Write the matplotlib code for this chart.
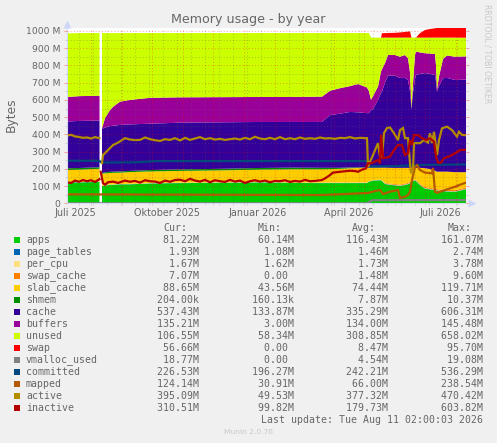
import numpy as np
import pandas as pd
import matplotlib
matplotlib.use("Agg")
import matplotlib.pyplot as plt
from matplotlib.transforms import blended_transform_factory

n = np.nan
START = pd.Timestamp("2025-07-08")
END_DAY = 399

stack_days = [0, 13, 32.5, 34, 35, 38, 41, 43, 46, 53, 63, 83, 113, 153, 193, 226, 255, 263, 273, 283, 291, 300, 302, 304,
              306, 311, 314, 315, 318, 321, 328, 333, 338, 341, 343, 344.5, 346, 348, 349, 353, 358, 363, 368, 369, 370,
              372, 376, 380, 388, 399]
apps = [122, 121, 124, n, 100, 103, 105, 106, 107, 110, 110, 115, 117, 119, 121, 118, 117, 117, 117, 117, 117, 117, 125, 128,
        131, 133, 133, 128, 112, 108, 104, 100, 106, 110, 116, 125, 130, 131, 129, 105, 85, 80, 76, 74, 73,
        70, 70, 68, 66, 81]
page_tables = [1.4, 1.4, 1.4, n, 1.2, 1.2, 1.2, 1.2, 1.2, 1.2, 1.3, 1.3, 1.3, 1.3, 1.4, 1.4, 1.4, 1.4, 1.4, 1.4, 1.4, 1.4, 1.5, 1.5,
               1.5, 1.5, 1.6, 1.6, 1.7, 1.7, 1.7, 1.8, 1.8, 1.8, 1.8, 1.8, 1.8, 1.8, 1.8, 1.8, 1.9, 1.9, 1.9, 1.9, 1.9,
               1.9, 1.9, 1.9, 1.9, 1.9]
per_cpu = [1.7] * 3 + [n] + [1.7] * 46
swap_cache = [0, 0, 0, n, 0, 0, 0, 0, 0, 0, 0, 0, 0, 0, 0, 0, 0, 0, 0, 0, 0, 0, 0, 0,
              0, 0, 0, 1, 3, 4, 4, 5, 5, 5, 5, 3, 2, 2, 2, 5, 6, 6, 6, 6, 6,
              7, 7, 7, 7, 7]
slab_cache = [68, 71, 73, n, 69, 68, 67, 67, 67, 65, 68, 67, 68, 69, 71, 76, 77, 78, 80, 83, 85, 87, 79, 76,
              73, 71, 71, 75, 89, 91, 94, 97, 91, 87, 81, 74, 70, 69, 71, 92, 109, 109, 103, 102, 101,
              103, 103, 105, 104, 89]
shmem = [10, 10, 9, n, 4, 6, 7, 7, 7, 7, 7, 8, 9, 9, 10, 10, 9, 8, 6, 5, 3, 2, 1, 0.3,
         0.3, 0.3, 0.3, 0.2, 0.2, 0.2, 0.2, 0.2, 0.2, 0.2, 0.2, 0.2, 0.2, 0.2, 0.2, 0.2, 0.2, 0.2, 0.2, 0.2, 0.2,
         0.2, 0.2, 0.2, 0.2, 0.2]
cache = [272, 273, 271, n, 256, 260, 263, 265, 266, 270, 270, 269, 271, 270, 267, 265, 266, 306, 314, 322, 320, 314, 315, 333,
         338, 393, 433, 441, 493, 534, 535, 522, 522, 510, 445, 340, 435, 515, 540, 545, 552, 552, 557, 521, 465,
         497, 542, 544, 535, 537]
buffers = [142, 144, 144, n, 3, 54, 78, 93, 110, 135, 142, 150, 147, 146, 145, 145, 147, 141, 148, 150, 164, 149, 127, 60,
           77, 77, 124, 130, 113, 120, 120, 123, 133, 126, 110, 5, 60, 140, 135, 125, 115, 118, 121, 94, 12,
           55, 112, 130, 135, 135]
unused = [369, 366, 364, n, 553, 494, 465, 447, 428, 398, 388, 376, 373, 372, 371, 371, 369, 335, 320, 308, 296, 316, 338, 361,
          339, 284, 197, 183, 148, 101, 101, 111, 101, 120, 201, 411, 261, 101, 81, 86, 91, 93, 95, 161, 301,
          226, 124, 104, 111, 108]
swap = [0, 0, 0, n, 0, 0, 0, 0, 0, 0, 0, 0, 0, 0, 0, 0, 0, 0, 0, 0, 0, 0, 0, 0,
        0, 0, 0, 26, 26, 27, 28, 30, 33, 35, 36, 0, 0, 0, 0, 26, 44, 50, 54, 55, 57,
        57, 57, 57, 57, 57]

vmalloc_days = [0, 300, 305, 399]
vmalloc_used = [0, 0, 18, 18.77]
committed_days = [0, 32, 35, 70, 90, 300, 302, 330, 350, 399]
committed = [247, 247, 236, 238, 245, 245, 214, 216, 222, 226]
mapped_days = [0, 255, 301, 308, 313, 316, 323, 331, 333, 338, 341, 343, 345, 348, 350, 353, 358, 365, 366, 368, 370, 378,
               388, 395, 399]
mapped = [52, 48, 60, 71, 77, 54, 67, 77, 31, 38, 48, 67, 135, 212, 222, 193, 178, 174, 205, 67, 61, 77, 96, 112, 120]

active_days = [0, 4, 8, 12, 16, 20, 24, 28, 32.5, 34, 35, 36, 41, 46, 51, 58, 63, 68, 73, 78, 83, 88, 93, 98, 103, 108, 113,
               118, 123, 128, 133, 138, 143, 148, 153, 158, 163, 168, 173, 178, 183, 188, 193, 198, 203, 208, 213, 218,
               223, 228, 233, 238, 243, 248, 253, 258, 263, 268, 273, 278, 283, 288, 293, 299, 300,
               301, 303, 306, 311, 313, 315, 317, 320, 323, 327, 331, 333, 336, 338, 341, 343, 344, 346, 347, 353, 357,
               361, 363, 365, 367, 369, 370, 372, 375, 380, 385, 390, 392, 395, 399]
active = [392, 398, 388, 385, 380, 382, 376, 384, 378, n, 233, 280, 309, 338, 352, 378, 370, 367, 368, 382, 372, 366, 362,
          372, 368, 378, 365, 380, 368, 376, 384, 372, 378, 370, 374, 368, 372, 376, 370, 380, 372, 386, 376, 372, 380,
          372, 384, 372, 378, 372, 382, 374, 378, 374, 382, 376, 378, 374, 380, 378, 384, 376, 380, 378, 378,
          212, 241, 280, 349, 270, 270, 407, 437, 440, 407, 367, 425, 437, 378, 378, 233, 175, 190, 349, 349, 367,
          352, 407, 350, 415, 328, 280, 367, 435, 445, 425, 387, 415, 397, 395]
inactive_days = [0, 4, 8, 12, 16, 20, 24, 28, 32.5, 33, 33.7, 36, 38, 41, 46, 51, 58, 63, 68, 73, 78, 83, 88, 93, 98, 103, 108,
                 113, 118, 123, 128, 133, 138, 143, 148, 153, 158, 163, 168, 173, 178, 183, 188, 193, 198, 203, 208, 213,
                 218, 223, 228, 233, 238, 243, 248, 255, 259, 263, 266, 273, 278, 283, 288, 291, 295, 299, 301,
                 304, 311, 313, 314, 316, 323, 327, 331, 335, 338, 341, 343, 345, 347, 351, 355, 359, 363, 367, 369, 371,
                 374, 377, 383, 389, 393, 399]
inactive = [122, 118, 132, 125, 135, 128, 134, 124, 140, n, 183, 117, 108, 122, 126, 118, 132, 125, 130, 120, 134, 128, 126,
            118, 132, 125, 135, 137, 128, 142, 132, 126, 136, 122, 134, 128, 124, 136, 126, 132, 118, 128, 134, 126, 132,
            122, 130, 128, 134, 124, 130, 126, 136, 128, 130, 135, 148, 164, 178, 183, 186, 189, 187, 183, 195, 203, 232,
            232, 251, 232, 396, 262, 270, 309, 338, 338, 280, 290, 367, 340, 396, 396, 378, 367, 378, 357, 270, 236,
            236, 262, 274, 294, 309, 310.51]

month_starts = pd.date_range("2025-08-01", "2026-08-01", freq="MS")
fortnights = pd.date_range("2025-07-20", "2026-08-11", freq="14D")
label_months = pd.to_datetime(["2025-07-16", "2025-10-16", "2026-01-15", "2026-04-16", "2026-07-16"])
month_labels = ["Juli 2025", "Oktober 2025", "Januar 2026", "April 2026", "Juli 2026"]
y_major = list(range(0, 1001, 100))
y_minor = list(range(50, 1000, 100))
y_labels = ["0"] + [f"{v} M" for v in y_major[1:]]

stack_names = ["apps", "page_tables", "per_cpu", "swap_cache", "slab_cache", "shmem", "cache", "buffers", "unused", "swap"]
line_names = ["vmalloc_used", "committed", "mapped", "active", "inactive"]
legend_names = stack_names + line_names
legend_colors = ["#00CC00", "#0066B3", "#FFDF80", "#FF8000", "#FFCC00", "#008F00", "#330099", "#990099", "#CCFF00", "#FF0000",
                 "#808080", "#00487D", "#B35A00", "#B38F00", "#B30000"]
cur_text = ["81.22M", "1.93M", "1.67M", "7.07M", "88.65M", "204.00k", "537.43M", "135.21M", "106.55M", "56.66M",
            "18.77M", "226.53M", "124.14M", "395.09M", "310.51M"]
min_text = ["60.14M", "1.08M", "1.62M", "0.00 ", "43.56M", "160.13k", "133.87M", "3.00M", "58.34M", "0.00 ",
            "0.00 ", "196.27M", "30.91M", "49.53M", "99.82M"]
avg_text = ["116.43M", "1.46M", "1.73M", "1.48M", "74.44M", "7.87M", "335.29M", "134.00M", "308.85M", "8.47M",
            "4.54M", "242.21M", "66.00M", "377.32M", "179.73M"]
max_text = ["161.07M", "2.74M", "3.78M", "9.60M", "119.71M", "10.37M", "606.31M", "145.48M", "658.02M", "95.70M",
            "19.08M", "536.29M", "238.54M", "470.42M", "603.82M"]

W, H = 497, 443
BG = "#F0F0F0"
TXT = "#666666"
MONO = "DejaVu Sans Mono"
fig = plt.figure(figsize=(W / 100, H / 100), dpi=100, facecolor=BG)
L, R, T, B = 67, 466, 28, 203.3
ax = fig.add_axes([L / W, 1 - B / H, (R - L) / W, (B - T) / H], facecolor="white")
ax.set_xlim(0, END_DAY)
ax.set_ylim(0, (B - T) / 0.1723)

ax.stackplot(stack_days, [apps, page_tables, per_cpu, swap_cache, slab_cache, shmem, cache, buffers, unused, swap],
             colors=legend_colors[:10], linewidth=0, zorder=1)
line_sets = [(vmalloc_days, vmalloc_used), (committed_days, committed), (mapped_days, mapped),
             (active_days, active), (inactive_days, inactive)]
for (xs, ys), c in zip(line_sets, legend_colors[10:]):
    ax.plot(xs, ys, color=c, lw=1.6, zorder=2, solid_joinstyle="miter")


def to_day(ts):
    return (ts - START) / pd.Timedelta(days=1)


ax.set_axisbelow(False)
ax.set_xticks([to_day(t) for t in month_starts])
ax.set_xticks([to_day(t) for t in fortnights], minor=True)
ax.set_yticks(y_major)
ax.set_yticklabels(y_labels)
ax.set_yticks(y_minor, minor=True)
ax.set_xticklabels([])
ax.grid(which="major", color=(1, 0, 0), alpha=0.32, lw=0.75, ls=(0, (1, 2)))
ax.grid(which="minor", color=(0.4, 0.4, 0.4), alpha=0.32, lw=0.75, ls=(0, (1, 2)))
ax.tick_params(axis="y", which="major", length=2, width=0.7, color="#F0A0A0", labelsize=6.7, labelcolor=TXT, pad=3,
               left=True, right=True)
ax.tick_params(axis="y", which="minor", length=1.5, width=0.7, color="#D0D0D0", left=True, right=True)
ax.tick_params(axis="x", which="both", length=1.5, width=0.7, color="#D0D0D0")
for s in ("top", "right"):
    ax.spines[s].set_visible(False)
for s in ("left", "bottom"):
    ax.spines[s].set_color("#D4DBF6")
    ax.spines[s].set_linewidth(0.8)
trans = blended_transform_factory(ax.transData, fig.transFigure)
for d, lab in zip(label_months, month_labels):
    ax.text(to_day(d), 1 - 212.5 / H, lab, transform=trans, ha="center", va="center", fontsize=6.9, color=TXT, clip_on=False)


def px(x, y):
    return x / W, 1 - y / H


# axis arrows
ax.plot([0], [1.024], marker="^", ms=6, color="#CDD6F7", mec="none", transform=ax.transAxes, clip_on=False, zorder=5)
ax.plot([1.016], [0], marker=">", ms=6, color="#CDD6F7", mec="none", transform=ax.transAxes, clip_on=False, zorder=5)

fig.text(*px(248, 19.5), "Memory usage - by year", ha="center", va="center", fontsize=9.1, color=TXT)
fig.text(*px(11, 115), "Bytes", rotation=90, ha="center", va="center", fontsize=8.8, color=TXT)
fig.text(*px(487, 53.5), "RRDTOOL / TOBI OETIKER", rotation=-90, ha="center", va="center", fontsize=5.6, color="#C8C8C8")
fig.text(*px(248, 432), "Munin 2.0.76", ha="center", va="center", fontsize=5.4, color="#C8C8C8")

FS = 7.1
cols = [151, 245.6, 340.3, 435.3]
for x, head in zip(cols, ["Cur:", "Min:", "Avg:", "Max:"]):
    fig.text(*px(x + 12, 227.7), head, ha="left", va="center", fontsize=FS, family=MONO, color=TXT)
for i, name in enumerate(legend_names):
    y = 239.7 + 12 * i
    fig.add_artist(plt.Rectangle(px(14, y + 3), 6 / W, 6 / H, transform=fig.transFigure, facecolor=legend_colors[i],
                                 edgecolor="none"))
    fig.text(*px(26, y), name, ha="left", va="center", fontsize=FS, family=MONO, color=TXT)
    for x, col in zip(cols, [cur_text, min_text, avg_text, max_text]):
        fig.text(*px(x, y), col[i].rjust(8), ha="left", va="center", fontsize=FS, family=MONO, color=TXT)
fig.text(*px(483, 419.7), "Last update: Tue Aug 11 02:00:03 2026", ha="right", va="center", fontsize=FS, family=MONO, color=TXT)

fig.savefig("out.png", dpi=100, facecolor=BG)
